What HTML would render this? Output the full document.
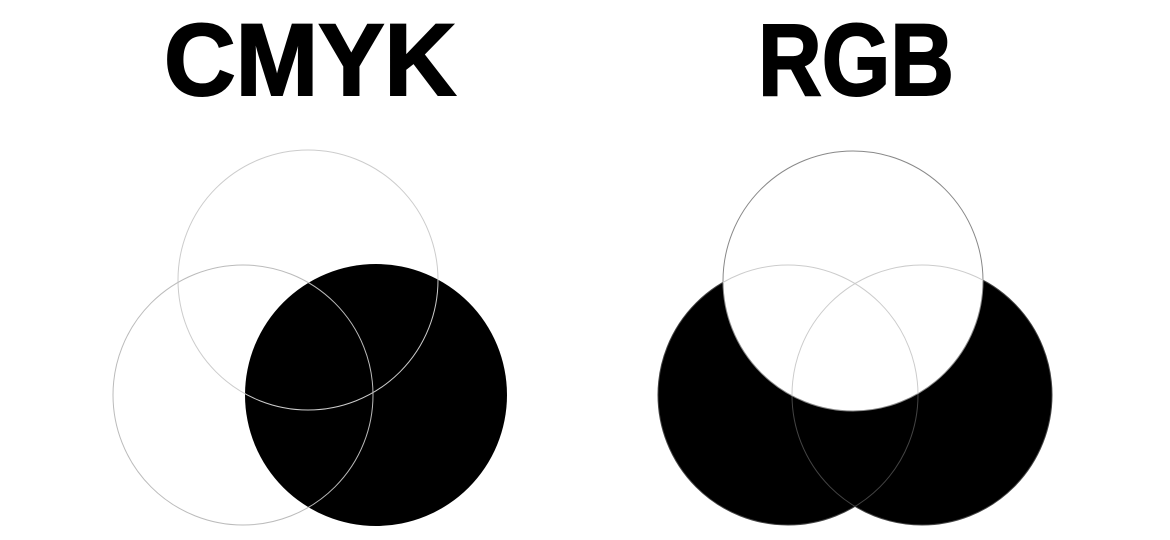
<!DOCTYPE html>
<html><head><meta charset="utf-8"><style>
html,body{margin:0;padding:0;background:#fff;width:1170px;height:540px;overflow:hidden}
svg{display:block}
</style></head><body>
<svg width="1170" height="540" viewBox="0 0 1170 540">
<text x="310" y="95" text-anchor="middle" font-family="Liberation Sans, sans-serif" font-weight="bold" font-size="102" fill="#000" stroke="#000" stroke-width="2" textLength="292" lengthAdjust="spacingAndGlyphs">CMYK</text>
<text x="856" y="95" text-anchor="middle" font-family="Liberation Sans, sans-serif" font-weight="bold" font-size="102" fill="#000" stroke="#000" stroke-width="2" textLength="196" lengthAdjust="spacingAndGlyphs">RGB</text>
<g>
<circle cx="376" cy="395" r="131" fill="#000"/>
<circle cx="308" cy="280" r="130" fill="none" stroke="#ccc" stroke-width="1"/>
<circle cx="243" cy="395" r="130" fill="none" stroke="#bbb" stroke-width="1"/>
</g>
<g>
<circle cx="788" cy="395" r="130" fill="#000"/>
<circle cx="922" cy="395" r="130" fill="#000"/>
<circle cx="788" cy="395" r="130" fill="none" stroke="#444" stroke-width="1"/>
<circle cx="922" cy="395" r="130" fill="none" stroke="#444" stroke-width="1"/>
<circle cx="853" cy="281" r="130" fill="#fff" stroke="#888" stroke-width="1"/>
</g>
<clipPath id="topc"><circle cx="853" cy="281" r="130"/></clipPath>
<g clip-path="url(#topc)">
<circle cx="788" cy="395" r="130" fill="none" stroke="#ccc" stroke-width="1"/>
<circle cx="922" cy="395" r="130" fill="none" stroke="#ccc" stroke-width="1"/>
</g>
</svg>
</body></html>
